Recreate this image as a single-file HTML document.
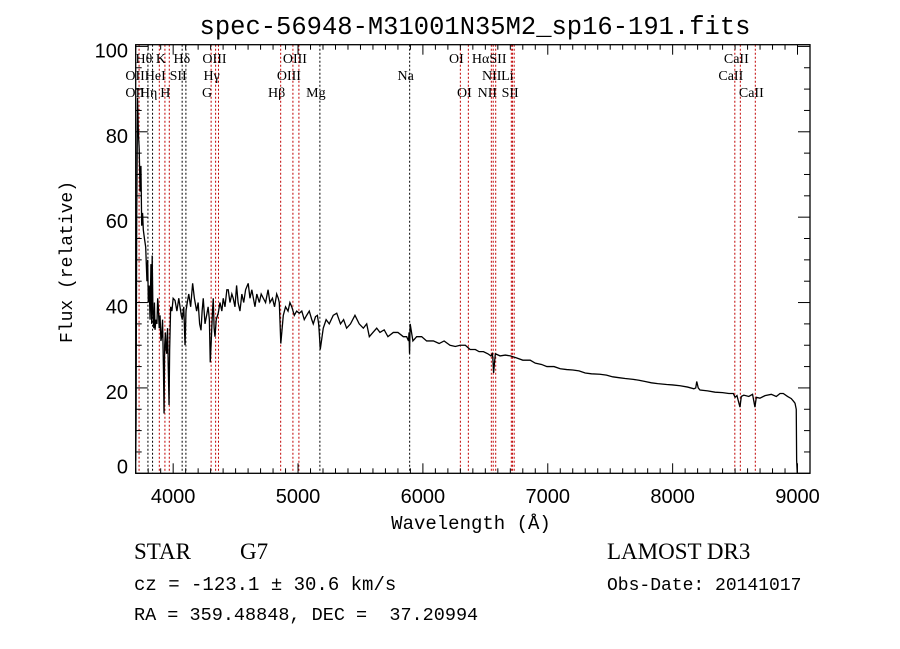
<!DOCTYPE html>
<html><head><meta charset="utf-8"><style>
html,body{margin:0;padding:0;background:#fff;}
svg{display:block;}
text{white-space:pre;}
</style></head><body>
<svg id="chart" width="900" height="649" viewBox="0 0 900 649" xmlns="http://www.w3.org/2000/svg" xml:space="preserve">
<text x="475" y="34" text-anchor="middle" font-family="Liberation Mono, monospace" font-size="25.5">spec-56948-M31001N35M2_sp16-191.fits</text>
<g id="grid"></g>
<g id="series"></g>
<g id="axes"></g>
<g id="labels" font-family="Liberation Serif, serif" font-size="14"></g>
<text x="471" y="529" text-anchor="middle" font-family="Liberation Mono, monospace" font-size="19">Wavelength (Å)</text>
<text transform="translate(72,262) rotate(-90)" text-anchor="middle" font-family="Liberation Mono, monospace" font-size="18">Flux (relative)</text>
<g font-family="Liberation Serif, serif">
<text x="134" y="559" font-size="23">STAR</text>
<text x="240" y="559" font-size="23">G7</text>
<text x="134" y="590" font-family="Liberation Mono, monospace" font-size="19">cz = -123.1 ± 30.6 km/s</text>
<text x="134" y="620" font-family="Liberation Mono, monospace" font-size="18.5">RA = 359.48848, DEC =  37.20994</text>
<text x="607" y="559" font-size="23">LAMOST DR3</text>
<text x="607" y="590" font-family="Liberation Mono, monospace" font-size="18">Obs-Date: 20141017</text>
</g>
</svg>
<script>
const wave = [3700,3703,3708,3715,3721,3728,3735,3742,3748,3755,3761,3770,3780,3790,3796,3801,3808,3815,3822,3828,3832,3838,3845,3850,3855,3862,3870,3876,3881,3888,3895,3902,3908,3915,3922,3927,3932,3938,3943,3948,3955,3960,3967,3972,3980,3990,4000,4015,4030,4045,4055,4065,4073,4085,4095,4103,4113,4125,4140,4156,4170,4188,4200,4212,4223,4232,4241,4255,4268,4280,4290,4297,4305,4315,4321,4328,4335,4345,4361,4375,4390,4401,4415,4430,4441,4455,4470,4481,4495,4508,4520,4535,4550,4565,4580,4601,4615,4630,4655,4670,4690,4705,4722,4740,4760,4775,4795,4812,4829,4842,4850,4855,4862,4882,4900,4920,4935,4950,4970,4989,5010,5030,5050,5069,5090,5110,5122,5140,5155,5165,5170,5178,5202,5225,5250,5282,5310,5340,5365,5389,5420,5456,5490,5523,5550,5571,5600,5630,5656,5690,5720,5763,5800,5843,5870,5885,5889,5893,5898,5920,5950,5990,6030,6084,6130,6170,6217,6260,6298,6340,6378,6420,6450,6485,6520,6545,6556,6560,6566,6580,6618,6660,6700,6752,6800,6859,6900,6950,6993,7050,7100,7152,7200,7250,7300,7350,7418,7470,7520,7570,7620,7685,7730,7780,7830,7880,7952,8000,8060,8120,8170,8185,8193,8205,8219,8280,8340,8400,8450,8486,8500,8515,8539,8550,8570,8610,8640,8659,8670,8699,8740,8790,8830,8860,8886,8920,8950,8970,8980,8990,8993,8998];
const flux = [3,12,60,88,80,76,66,72,58,61,57,55,53,45,50,40,44,36,49,35,51,38,34,40,33.6,36,35,41,39,34,37,31,32,36,25,14,30,33,29,28,34,26,16,29,39,38,41,40.5,38,41,39,37,36,39,30,38,40,42,39,44.5,41,38,40,35,33.5,38,41,35,37,39,36,26,31,38,41,34,32,36,37.5,40,38,41,39,43,43,40,42,41,39,44,40,38,42,40,43,44.5,41,43,39,42,40,42,41,40,43,40,41,39,42,41,40,36,30.4,37,39,38,40,39,37,38,37.5,38,36,37,38,36,35,36.7,37,35,33,29,34,36,35,37,37.5,35,36,34,35,37,35,34,35,32,33,34,33,33.6,32,33,33,32,32,31,33,28,35,31,32,32,31,31,30.4,31,30,29.7,30,30,29,29,28.5,28.5,28,27.5,28,27,23.5,28,27.5,27.7,27.5,27,26.5,26.5,25.8,25.5,25,25,24.5,24.3,24.2,24,23.5,23.3,23.2,23,22.6,22.4,22.2,22,21.8,21.5,21.2,21,20.8,20.7,20.5,20.2,19.8,20,21.5,20,19.5,19.3,19,18.9,18.7,18.7,17.8,18.2,15.5,18,18.3,18,18.5,15.5,17.8,17.6,18.2,18.5,18,18.7,18.7,18,17.5,16.8,16.4,15,3,0];
const xTicks = [4000,5000,6000,7000,8000,9000];
const yTicks = [0,20,40,60,80,100];
const lineWaves = [3727,3798,3835,3889,3934,3969,4072,4102,4304,4340,4363,4861,4959,5007,5175,5894,6300,6364,6548,6563,6583,6708,6717,6731,8498,8542,8662];
const lineRed = [1,0,0,1,1,1,0,0,1,1,1,1,1,1,0,0,1,1,1,1,1,1,1,1,1,1,1];
const labelText = ["Hθ","K","Hδ","OIII","OIII","OI","HαSII","CaII","OII","HeI","SII","Hγ","OIII","Na","NII","Li","CaII","OII","Hη","H","G","Hβ","Mg","OI","NII","SII","CaII"];
const labelWave = [3798,3934,4102,4363,5007,6300,6563,8542,3727,3889,4072,4340,4959,5894,6583,6708,8498,3727,3835,3969,4304,4861,5175,6364,6548,6731,8662];
const labelRow = [0,0,0,0,0,0,0,0,1,1,1,1,1,1,1,1,1,2,2,2,2,2,2,2,2,2,2];

const X0=135.7,X1=810,Y0=473.3,Y1=44.7,XMIN=3700,XMAX=9100,YMIN=0,YMAX=100.4;
function xs(v){return X0+(v-XMIN)/(XMAX-XMIN)*(X1-X0);}
function ys(v){return Y0-(v-YMIN)/(YMAX-YMIN)*(Y0-Y1);}
const NS='http://www.w3.org/2000/svg';
function mk(t,a,p){const e=document.createElementNS(NS,t);for(const k in a)e.setAttribute(k,a[k]);p.appendChild(e);return e;}

const grid=document.getElementById('grid');
lineWaves.forEach((w,i)=>{
  const l=mk('line',{x1:xs(w),x2:xs(w),y1:Y1,y2:Y0,stroke:lineRed[i]?'#c00000':'#000','stroke-width':1,'stroke-dasharray':'2,2'},grid);
  
  
});
const labels=document.getElementById('labels');
labelText.forEach((t,i)=>{
  const tx=mk('text',{x:xs(labelWave[i])-4,y:63+labelRow[i]*17,'text-anchor':'middle'},labels);
  tx.textContent=t;
  
  
});

const series=document.getElementById('series');
let d='';
wave.forEach((w,i)=>{d+=(i?'L':'M')+xs(w).toFixed(2)+','+ys(flux[i]).toFixed(2);});
const p=mk('path',{d:d,fill:'none',stroke:'#000','stroke-width':1.3},series);



const axes=document.getElementById('axes');
const box=mk('rect',{x:X0,y:Y1,width:X1-X0,height:Y0-Y1,fill:'none',stroke:'#000','stroke-width':1.3},axes);


for(let v=3700;v<=9100;v+=100){
  const major=v%1000===0, L=major?10:5;
  mk('line',{x1:xs(v),x2:xs(v),y1:Y0,y2:Y0-L,stroke:'#000'},axes);
  mk('line',{x1:xs(v),x2:xs(v),y1:Y1,y2:Y1+L,stroke:'#000'},axes);
}
for(let v=0;v<=100;v+=5){
  const major=v%20===0, L=major?12:6;
  mk('line',{x1:X0,x2:X0+L,y1:ys(v),y2:ys(v),stroke:'#000'},axes);
  mk('line',{x1:X1,x2:X1-L,y1:ys(v),y2:ys(v),stroke:'#000'},axes);
}
xTicks.forEach(v=>{
  const t=mk('text',{x:xs(v),y:503,'text-anchor':'middle','font-family':'Liberation Sans, sans-serif','font-size':20},axes);
  t.textContent=v;
  
  
});
yTicks.forEach(v=>{
  const t=mk('text',{x:128,y:ys(v)+(v===0?0:11),'text-anchor':'end','font-family':'Liberation Sans, sans-serif','font-size':20},axes);
  t.textContent=v;
  
  
});
</script>
</body></html>
